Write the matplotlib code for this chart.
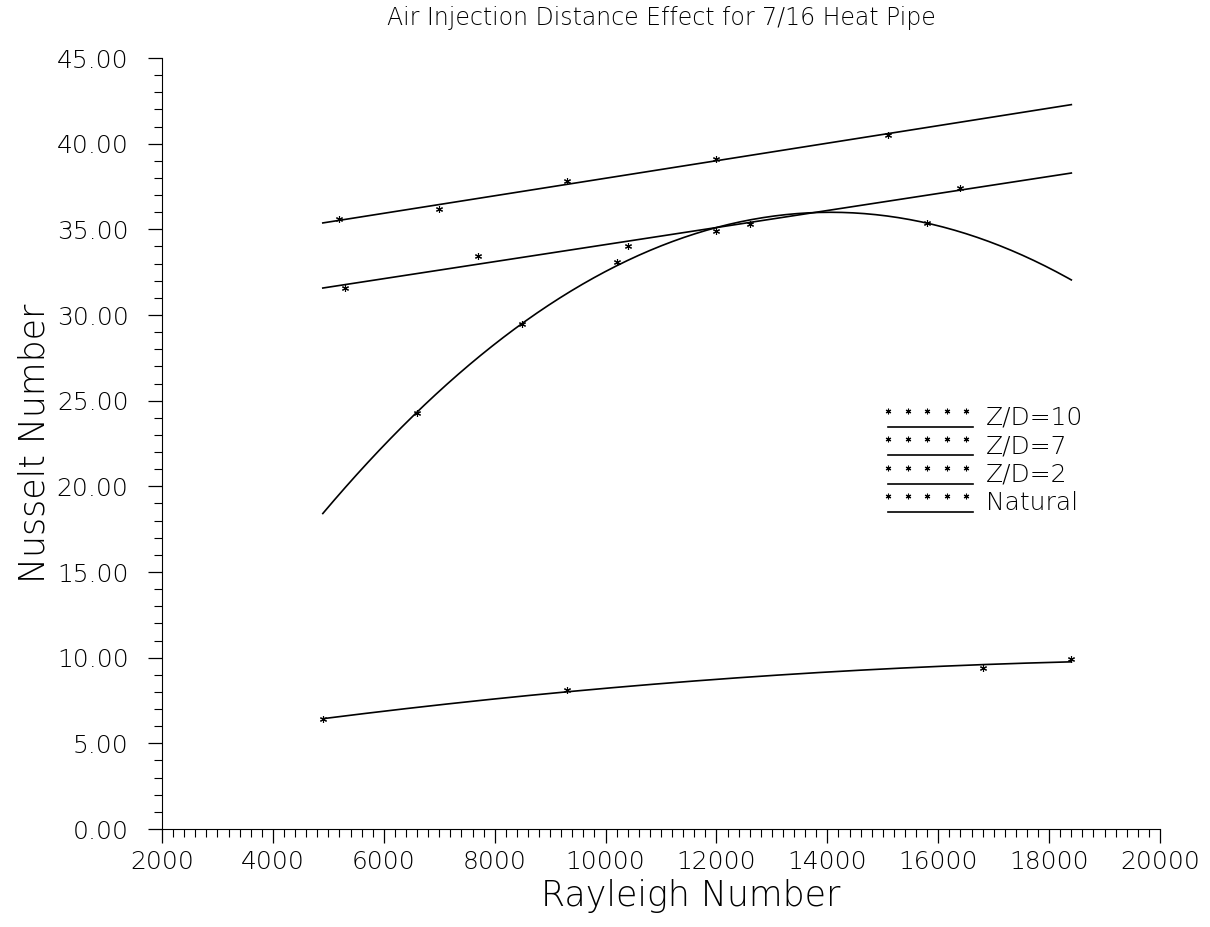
import numpy as np
import matplotlib
matplotlib.use("Agg")
import matplotlib.pyplot as plt
from matplotlib.lines import Line2D
from matplotlib.legend_handler import HandlerBase
from matplotlib.ticker import MultipleLocator, FormatStrFormatter

plt.rcParams['font.family'] = ['DejaVu Sans']

# measured points (Rayleigh number, Nusselt number)
zd10_x = [5200, 7000, 9300, 12000, 15100]
zd10_y = [35.6, 36.2, 37.8, 39.1, 40.5]
zd7_x = [5300, 7700, 10400, 12600, 16400]
zd7_y = [31.6, 33.45, 34.0, 35.3, 37.4]
zd2_x = [6600, 8500, 10200, 12000, 15800]
zd2_y = [24.3, 29.5, 33.1, 34.9, 35.4]
nat_x = [4900, 9300, 16800, 18400]
nat_y = [6.4, 8.1, 9.4, 9.9]

labels = ['Z/D=10', 'Z/D=7', 'Z/D=2', 'Natural']
fit_deg = [1, 1, 2, 2]
fit_range = (4900, 18400)

series = [(zd10_x, zd10_y), (zd7_x, zd7_y), (zd2_x, zd2_y), (nat_x, nat_y)]

fig = plt.figure(figsize=(12.1, 9.27), dpi=100)
ax = fig.add_axes([0.1339, 0.1057, 0.8248, 0.8317])

xs = np.linspace(fit_range[0], fit_range[1], 200)
for (x, y), deg in zip(series, fit_deg):
    coef = np.polyfit(x, y, deg)
    ax.plot(xs, np.polyval(coef, xs), color='k', lw=1.2)
    ax.plot(x, y, ls='none', marker=(6, 2, 0), ms=5, mew=0.8, color='k')

ax.set_xlim(2000, 20000)
ax.set_ylim(0, 45)
ax.set_xticks(range(2000, 20001, 2000))
ax.xaxis.set_minor_locator(MultipleLocator(200))
ax.yaxis.set_major_locator(MultipleLocator(5))
ax.yaxis.set_minor_locator(MultipleLocator(1))
ax.yaxis.set_major_formatter(FormatStrFormatter('%.2f'))
ax.spines['top'].set_visible(False)
ax.spines['right'].set_visible(False)
ax.tick_params(which='major', direction='out', length=10, width=0.9, labelsize=18, colors='k')
ax.tick_params(which='minor', direction='out', length=6, width=0.8)
ax.tick_params(axis='y', which='major', pad=14)
ax.tick_params(axis='x', which='major', pad=5)
for lab in ax.get_xticklabels() + ax.get_yticklabels():
    lab.set_fontweight('light')

ax.set_title('Air Injection Distance Effect for 7/16 Heat Pipe', fontsize=17,
             fontweight='light', pad=24, x=0.5)
ax.set_xlabel('Rayleigh Number', fontsize=25, fontweight='light', labelpad=4, x=0.53)
ax.set_ylabel('Nusselt Number', fontsize=25, fontweight='light', labelpad=4)


class DotsOverLine(HandlerBase):
    def create_artists(self, legend, orig_handle, xdescent, ydescent,
                       width, height, fontsize, trans):
        px = np.linspace(0, width * 0.92, 5) - xdescent
        dots = Line2D(px, [height * 0.8 - ydescent] * 5, ls='none',
                      marker=(6, 2, 0), ms=4, mew=0.8, color='k', transform=trans)
        line = Line2D([-xdescent, width - xdescent], [-ydescent - 0.1 * height] * 2,
                      color='k', lw=1.2, transform=trans)
        return [dots, line]


handles = [Line2D([], [], color='k') for _ in labels]
hmap = {h: DotsOverLine() for h in handles}
leg = ax.legend(handles, labels, handler_map=hmap, loc='upper left',
                bbox_to_anchor=(0.715, 0.565), frameon=False, fontsize=18,
                handlelength=3.4, handletextpad=0.5, labelspacing=0.18,
                borderpad=0)
for t in leg.get_texts():
    t.set_fontweight('light')

fig.savefig('out.png', dpi=100)
